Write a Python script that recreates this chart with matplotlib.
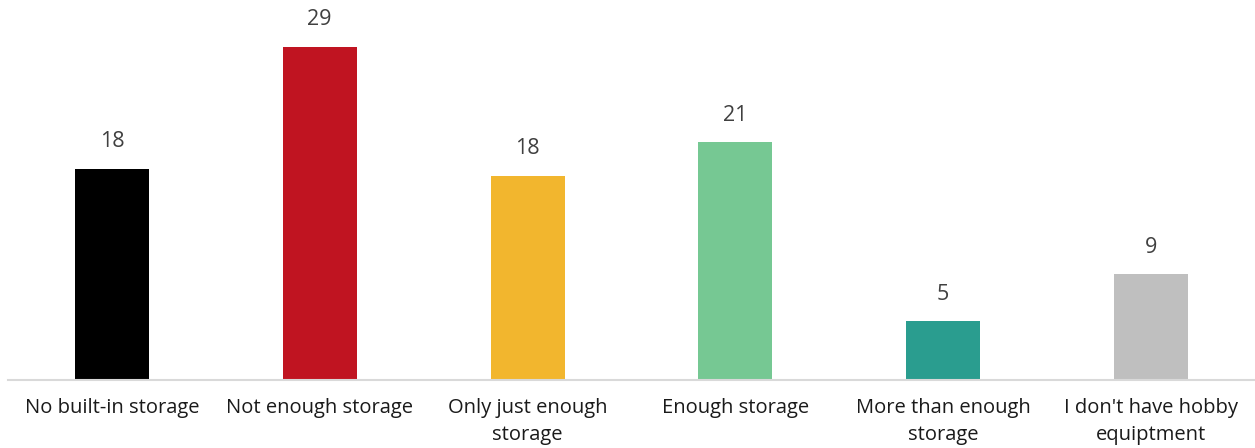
import matplotlib.pyplot as plt

categories = ["No built-in storage", "Not enough storage", "Only just enough\nstorage",
              "Enough storage", "More than enough\nstorage", "I don't have hobby\nequiptment"]
values = [18.4, 29.0, 17.8, 20.7, 5.1, 9.2]
colors = ["#000000", "#C01421", "#F2B62E", "#76C893", "#2A9D8F", "#BFBFBF"]

plt.rcParams['font.family'] = ['Open Sans', 'DejaVu Sans']

fig = plt.figure(figsize=(12.55, 4.48), dpi=100)
ax = fig.add_axes([8 / 1255, 68 / 448, 1 - 8 / 1255, 380 / 448])

x = range(len(categories))
ax.bar(x, values, width=0.356, color=colors, zorder=2)

for i, v in enumerate(values):
    ax.annotate(str(int(round(v))), (i, v), xytext=(0, 12), textcoords='offset points',
                ha='center', va='bottom', fontsize=15.5, color='#404040')

ax.set_xlim(-0.5, len(categories) - 0.5)
ax.set_ylim(0, 33.1)
ax.set_xticks(list(x))
ax.set_xticklabels(categories, fontsize=14.5, color='#1a1a1a', linespacing=1.45)
ax.tick_params(axis='x', length=0, pad=13)
ax.set_yticks([])
for s in ['top', 'right', 'left']:
    ax.spines[s].set_visible(False)
ax.spines['bottom'].set_color('#D9D9D9')
ax.spines['bottom'].set_linewidth(1.5)

fig.savefig('out.png', dpi=100)
